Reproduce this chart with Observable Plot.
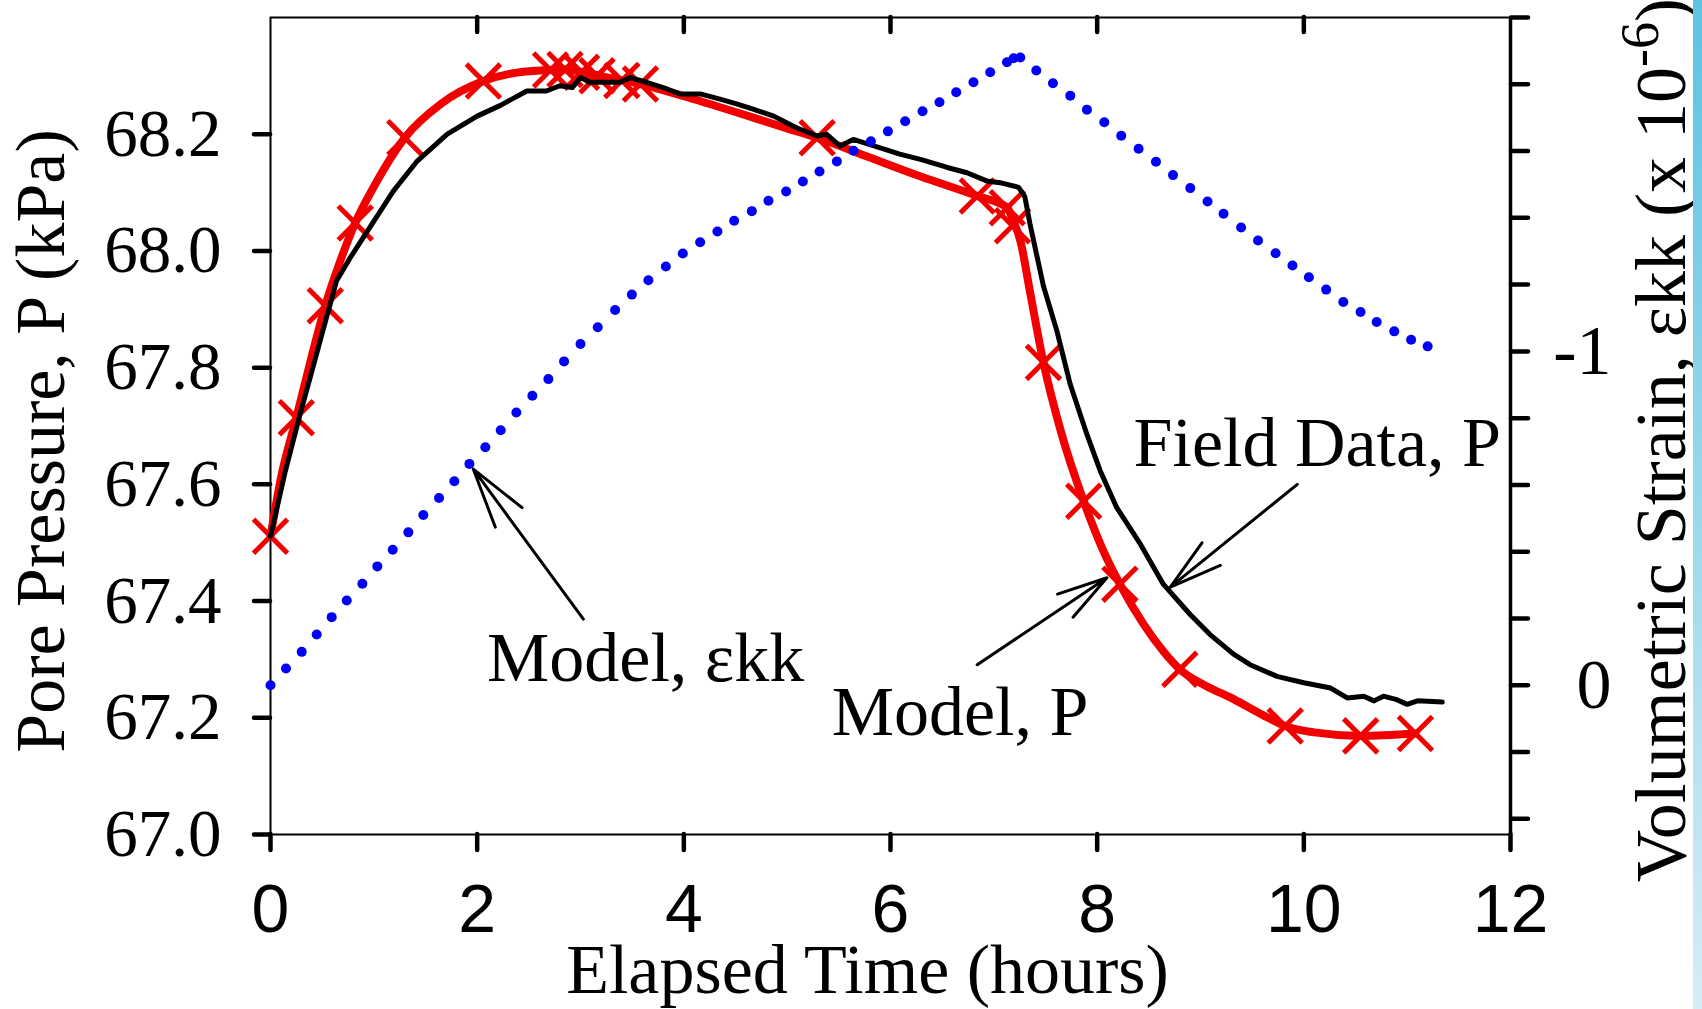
<!DOCTYPE html>
<html>
<head>
<meta charset="utf-8">
<script src="https://cdn.jsdelivr.net/npm/d3@7"></script>
<script src="https://cdn.jsdelivr.net/npm/@observablehq/plot@0.6"></script>
<style>
  html, body { margin: 0; padding: 0; background: #fff; }
  #chart { position: relative; width: 1702px; height: 1009px; overflow: hidden; }
  #chart svg { display: block; }
  #edge { position: absolute; top: 0; right: 0; width: 9px; height: 1009px;
          background: linear-gradient(#5ec3e2, #d6edf6); }
</style>
</head>
<body>
<div id="chart"><div id="edge"></div></div>
<script>
// Field record of pore pressure (kPa) against elapsed time (hours)
const fieldTime = [0, 0.14, 0.286, 0.41, 0.48, 0.64, 0.77, 0.96, 1.19, 1.42, 1.71, 2.0, 2.22, 2.48, 2.67, 2.8, 2.92, 3.0, 3.09, 3.38, 3.48, 3.64, 3.8, 3.96, 4.16, 4.35, 4.51, 4.67, 4.87, 5.09, 5.29, 5.38, 5.51, 5.64, 5.84, 6.09, 6.29, 6.55, 6.74, 6.93, 7.06, 7.24, 7.3, 7.35, 7.48, 7.61, 7.74, 7.9, 8.03, 8.19, 8.42, 8.64, 8.9, 9.09, 9.32, 9.48, 9.74, 10.0, 10.26, 10.42, 10.58, 10.68, 10.77, 10.9, 11.0, 11.1, 11.34];
const fieldPressure = [67.511, 67.62, 67.72, 67.80, 67.846, 67.949, 67.988, 68.04, 68.103, 68.154, 68.2, 68.231, 68.249, 68.274, 68.274, 68.283, 68.28, 68.297, 68.289, 68.289, 68.297, 68.289, 68.28, 68.269, 68.269, 68.26, 68.252, 68.243, 68.231, 68.211, 68.197, 68.2, 68.18, 68.191, 68.18, 68.166, 68.157, 68.143, 68.134, 68.12, 68.117, 68.109, 68.093, 68.046, 67.94, 67.863, 67.771, 67.686, 67.623, 67.56, 67.497, 67.429, 67.377, 67.343, 67.309, 67.291, 67.271, 67.26, 67.251, 67.234, 67.237, 67.229, 67.237, 67.231, 67.223, 67.229, 67.227];

// Model pore pressure curve
const modelTime = [0, 0.1, 0.25, 0.4, 0.53, 0.68, 0.82, 1.0, 1.3, 1.65, 2.06, 2.4, 2.71, 2.85, 3.0, 3.3, 3.58, 4.0, 4.5, 5.0, 5.29, 5.8, 6.3, 6.84, 7.13, 7.18, 7.26, 7.35, 7.48, 7.65, 7.87, 8.05, 8.22, 8.45, 8.64, 8.8, 9.05, 9.32, 9.6, 9.82, 10.1, 10.55, 11.08];
const modelPressure = [67.511, 67.61, 67.714, 67.82, 67.906, 67.985, 68.048, 68.11, 68.194, 68.252, 68.291, 68.306, 68.31, 68.311, 68.307, 68.296, 68.286, 68.265, 68.238, 68.21, 68.194, 68.16, 68.127, 68.094, 68.074, 68.055, 68.015, 67.93, 67.809, 67.69, 67.571, 67.49, 67.429, 67.36, 67.314, 67.283, 67.255, 67.232, 67.205, 67.186, 67.175, 67.169, 67.173];

// Model output steps drawn as crosses
const markerTime = [0, 0.25, 0.53, 0.82, 1.30, 2.06, 2.71, 2.85, 3.01, 3.16, 3.40, 3.58, 5.29, 6.84, 7.13, 7.18, 7.48, 7.87, 8.22, 8.80, 9.82, 10.55, 11.08];
const markerPressure = [67.511, 67.714, 67.906, 68.048, 68.194, 68.291, 68.31, 68.311, 68.306, 68.30, 68.292, 68.286, 68.194, 68.094, 68.074, 68.043, 67.809, 67.571, 67.429, 67.283, 67.186, 67.169, 67.173];

// Model volumetric strain, εkk (x 10^-6)
const strainTime = [0, 0.15, 0.302, 0.447, 0.592, 0.738, 0.889, 1.034, 1.183, 1.334, 1.479, 1.631, 1.779, 1.925, 2.079, 2.228, 2.379, 2.534, 2.689, 2.841, 3.0, 3.167, 3.335, 3.497, 3.657, 3.826, 3.99, 4.158, 4.325, 4.487, 4.658, 4.819, 4.99, 5.152, 5.313, 5.481, 5.642, 5.81, 5.975, 6.142, 6.31, 6.474, 6.636, 6.803, 6.965, 7.127, 7.191, 7.256, 7.411, 7.572, 7.74, 7.901, 8.069, 8.233, 8.401, 8.569, 8.734, 8.901, 9.068, 9.223, 9.393, 9.557, 9.727, 9.89, 10.049, 10.216, 10.382, 10.549, 10.705, 10.875, 11.038, 11.198];
const strainValue = [0, -0.05, -0.1, -0.152, -0.204, -0.254, -0.304, -0.356, -0.406, -0.458, -0.51, -0.561, -0.611, -0.663, -0.713, -0.764, -0.817, -0.867, -0.917, -0.97, -1.022, -1.072, -1.124, -1.17, -1.213, -1.254, -1.293, -1.327, -1.359, -1.391, -1.42, -1.451, -1.479, -1.509, -1.539, -1.569, -1.601, -1.629, -1.659, -1.689, -1.719, -1.746, -1.776, -1.806, -1.836, -1.866, -1.878, -1.88, -1.841, -1.803, -1.766, -1.724, -1.686, -1.646, -1.607, -1.568, -1.528, -1.489, -1.449, -1.412, -1.371, -1.332, -1.294, -1.257, -1.222, -1.185, -1.148, -1.118, -1.088, -1.06, -1.035, -1.015];

// Axis ticks
const timeTicks = [0, 2, 4, 6, 8, 10, 12];
const timeTicksTop = [2, 4, 6, 8, 10];
const pressureTicks = [67.0, 67.2, 67.4, 67.6, 67.8, 68.0, 68.2];
const strainTicks = [-2.0, -1.8, -1.6, -1.4, -1.2, -1.0, -0.8, -0.6, -0.4, -0.2, 0, 0.2, 0.4];
const strainTickLabels = new Map([[-1, "-1"], [0, "0"]]);

// Pressure axis extent and the strain values at the same bottom / top edges
const pressureDomain = [67.0, 68.4];
const strainSpan = [0.447, -2.0];

// Callout labels and their arrows (time in hours, position on the pressure axis)
const calloutText = ["Model, εkk", "Model, P", "Field Data, P"];
const calloutTime = [2.096, 5.431, 8.352];
const calloutPressure = [67.263, 67.171, 67.631];
const arrowFromTime = [3.028, 6.839, 9.937];
const arrowFromPressure = [67.369, 67.291, 67.60];
const arrowToTime = [1.963, 8.095, 8.708];
const arrowToPressure = [67.626, 67.44, 67.424];

const xTitle = "Elapsed Time (hours)";
const yTitle = "Pore Pressure, P (kPa)";
const y2Title = "Volumetric Strain, εkk (x 10-6)";

// strain -> equivalent position on the pressure scale
const strainToPressure = d3.scaleLinear().domain(strainSpan).range(pressureDomain);

const field = fieldTime.map((t, i) => ({t, p: fieldPressure[i]}));
const model = modelTime.map((t, i) => ({t, p: modelPressure[i]}));
const markers = markerTime.map((t, i) => ({t, p: markerPressure[i]}));
const strain = strainTime.map((t, i) => ({t, p: strainToPressure(strainValue[i])}));
const callouts = calloutText.map((text, i) => ({text, t: calloutTime[i], p: calloutPressure[i]}));
const arrows = arrowFromTime.map((t, i) => ({
  t1: t, p1: arrowFromPressure[i], t2: arrowToTime[i], p2: arrowToPressure[i]
}));

const width = 1702, height = 1009;
const marginLeft = 270, marginRight = 192, marginTop = 17, marginBottom = 175;
const innerHeight = height - marginTop - marginBottom;

const serif = "Liberation Serif, Times New Roman, serif";
const sans = "Liberation Sans, Arial, sans-serif";
const red = "#f20000", blue = "#0000f5";

const svg = Plot.plot({
  width, height, marginLeft, marginRight, marginTop, marginBottom,
  x: {domain: [0, 12]},
  y: {domain: pressureDomain},
  style: {fontFamily: serif, background: "white", color: "black", overflow: "visible"},
  marks: [
    Plot.frame({stroke: "black", strokeWidth: 2}),
    Plot.ruleX([12], {stroke: "black", strokeWidth: 3.5}),

    // bottom time axis
    Plot.axisX(timeTicks, {
      anchor: "bottom", tickSize: 16, tickPadding: 33, strokeWidth: 4.5, strokeLinecap: "round",
      fontFamily: sans, fontSize: 68, tickFormat: d => String(d), label: null
    }),
    // inward ticks along the top edge
    Plot.tickX(timeTicksTop, {x: d => d, insetBottom: innerHeight - 15, stroke: "black", strokeWidth: 4.5, strokeLinecap: "round"}),

    // left pressure axis
    Plot.axisY(pressureTicks, {
      anchor: "left", tickSize: 16, tickPadding: 33, strokeWidth: 4.5, strokeLinecap: "round",
      fontFamily: serif, fontSize: 67, tickFormat: d => d.toFixed(1), label: null
    }),
    // right strain axis
    Plot.axisY(strainTicks.map(s => strainToPressure(s)), {
      anchor: "right", tickSize: 17, tickPadding: 84, textAnchor: "end",
      strokeWidth: 4.5, strokeLinecap: "round", fontFamily: serif, fontSize: 70,
      tickFormat: d => {
        const s = Math.round(strainToPressure.invert(d) * 10) / 10;
        return strainTickLabels.get(s) ?? "";
      },
      label: null
    }),

    // model pore pressure
    Plot.line(model, {x: "t", y: "p", stroke: red, strokeWidth: 8, curve: "monotone-x", strokeLinejoin: "round", strokeLinecap: "round"}),
    Plot.dot(markers, {x: "t", y: "p", symbol: "times", r: 15.5, stroke: red, strokeWidth: 5}),

    // field data
    Plot.line(field, {x: "t", y: "p", stroke: "black", strokeWidth: 5, strokeLinejoin: "round", strokeLinecap: "round"}),

    // model volumetric strain
    Plot.dot(strain, {x: "t", y: "p", r: 5, fill: blue, stroke: "none"}),

    // callouts
    Plot.arrow(arrows, {x1: "t1", y1: "p1", x2: "t2", y2: "p2", stroke: "black", strokeWidth: 3, headLength: 32, headAngle: 31}),
    Plot.text(callouts, {x: "t", y: "p", text: "text", textAnchor: "start", lineAnchor: "bottom", fontSize: 70, fontFamily: serif, fill: "black"}),

    // axis titles
    Plot.text([xTitle], {frameAnchor: "bottom", dx: -23, dy: 158, textAnchor: "middle", lineAnchor: "bottom", fontSize: 70, fontFamily: serif, fill: "black"}),
    Plot.text([yTitle], {frameAnchor: "left", dx: -207, dy: 15, rotate: -90, textAnchor: "middle", lineAnchor: "bottom", fontSize: 70, fontFamily: serif, fill: "black"}),
    Plot.text([y2Title], {frameAnchor: "right", dx: 174, dy: 14, rotate: -90, textAnchor: "middle", lineAnchor: "bottom", fontSize: 72, fontFamily: serif, fill: "black"})
  ]
});

// raise the exponent in the strain title
d3.select(svg).selectAll("text").filter(function () { return this.textContent === y2Title; })
  .each(function () {
    const t = d3.select(this);
    t.text(null);
    t.append("tspan").text("Volumetric Strain, εkk (x 10");
    t.append("tspan").attr("dy", "-0.5em").attr("font-size", "0.75em").text("-6");
    t.append("tspan").attr("dy", "0.375em").text(")");
  });

document.getElementById("chart").prepend(svg);
</script>
</body>
</html>
